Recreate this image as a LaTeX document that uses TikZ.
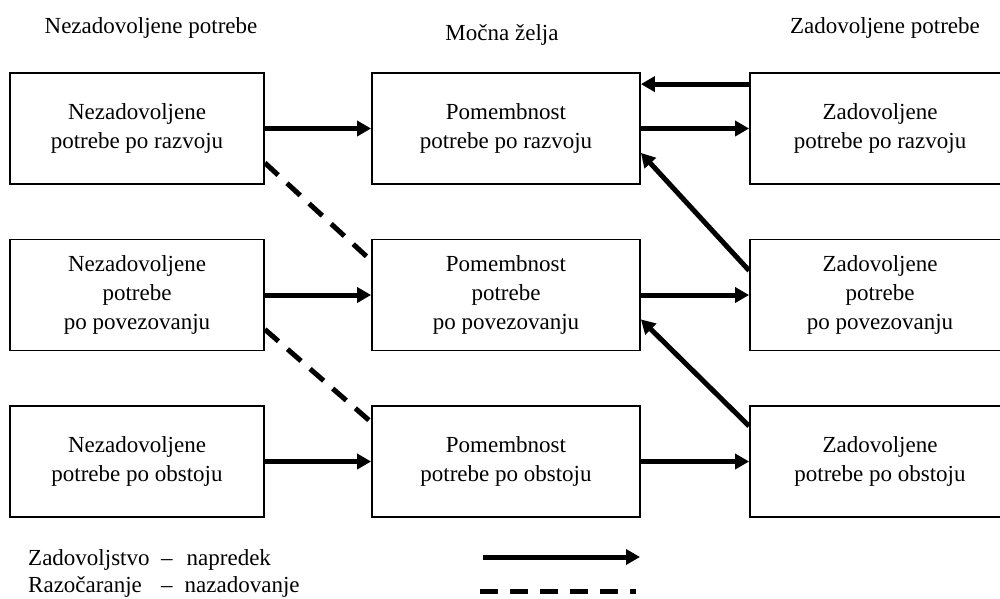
\documentclass[tikz,border=0pt]{standalone}
\usepackage{fontspec}
\setmainfont{Liberation Serif}
\usetikzlibrary{arrows.meta,calc}

\tikzset{
  boxl/.style={draw, line width=1.8pt, inner sep=0pt, minimum width=254pt,
    minimum height=111pt, align=center, font=\fontsize{23}{29}\selectfont},
  boxm/.style={boxl, minimum width=268pt},
  boxr/.style={boxl, minimum width=260pt},
  head/.style={anchor=base, inner sep=0pt, font=\fontsize{23}{29}\selectfont},
  legtext/.style={anchor=base west, inner sep=0pt, font=\fontsize{23}{29}\selectfont},
  gain/.style={line width=5pt, -{Triangle[length=14pt,width=15pt]}},
  loss/.style={line width=5pt, dash pattern=on 18pt off 12pt}
}

\begin{document}
\begin{tikzpicture}[x=1pt, y=-1pt]
  \useasboundingbox (0,0) rectangle (1000,598);
  \clip (0,0) rectangle (1000,598);

  % column headings
  \node[head] (hl) at (151,33) {Nezadovoljene potrebe};
  \node[head] (hm) at (502,40) {Močna želja};
  \node[head] (hr) at (885,33) {Zadovoljene potrebe};

  % unmet needs
  \node[boxl] (L1) at (137,128.5) {Nezadovoljene\\potrebe po razvoju};
  \node[boxl] (L2) at (137,295)   {Nezadovoljene\\potrebe\\po povezovanju};
  \node[boxl] (L3) at (137,461.5) {Nezadovoljene\\potrebe po obstoju};

  % strong desire
  \node[boxm] (M1) at (506,128.5) {Pomembnost\\potrebe po razvoju};
  \node[boxm] (M2) at (506,295)   {Pomembnost\\potrebe\\po povezovanju};
  \node[boxm] (M3) at (506,461.5) {Pomembnost\\potrebe po obstoju};

  % met needs
  \node[boxr] (R1) at (880,128.5) {Zadovoljene\\potrebe po razvoju};
  \node[boxr] (R2) at (880,295)   {Zadovoljene\\potrebe\\po povezovanju};
  \node[boxr] (R3) at (880,461.5) {Zadovoljene\\potrebe po obstoju};

  % progress
  \draw[gain] (L1.east) -- (M1.west);
  \draw[gain] (L2.east) -- (M2.west);
  \draw[gain] (L3.east) -- (M3.west);
  \draw[gain] (M1.east) -- (R1.west);
  \draw[gain] (M2.east) -- (R2.west);
  \draw[gain] (M3.east) -- (R3.west);
  \draw[gain] ($(R1.north west)+(0,12)$) -- ($(M1.north east)+(0,12)$);
  \draw[gain] ($(R2.north west)+(0,32)$) -- ($(M1.south east)+(0,-32)$);
  \draw[gain] ($(R3.north west)+(0,21)$) -- ($(M2.south east)+(0,-32)$);

  % regression
  \draw[loss] ($(L1.south east)+(0,-22)$) -- ($(M2.north west)+(0,22)$);
  \draw[loss] ($(L2.south east)+(0,-22)$) -- ($(M3.north west)+(0,17)$);

  % key
  \node[legtext] (k1) at (28,565)
    {\makebox[133pt][l]{Zadovoljstvo}–\hspace{14pt}napredek};
  \node[legtext] (k2) at (28,592)
    {\makebox[133pt][l]{Razočaranje}–\hspace{12pt}nazadovanje};
  \coordinate (g1) at (483,557);
  \coordinate (g2) at (640,557);
  \coordinate (d1) at (480,591);
  \coordinate (d2) at (636,591);
  \draw[gain] (g1) -- (g2);
  \draw[loss] (d1) -- (d2);
\end{tikzpicture}
\end{document}
